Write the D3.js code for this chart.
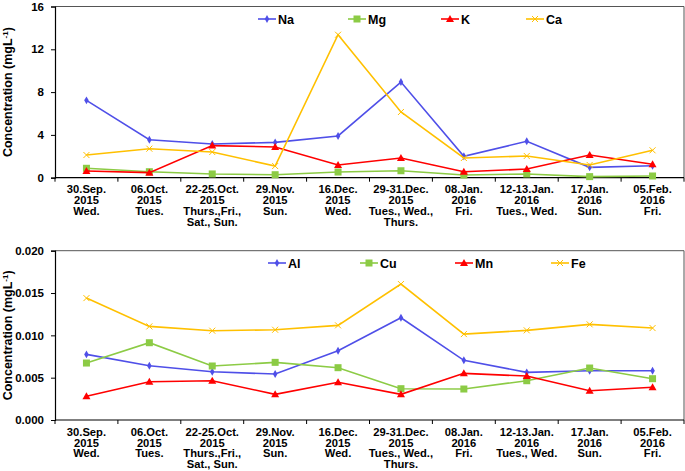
<!DOCTYPE html>
<html><head><meta charset="utf-8">
<script src="https://cdn.jsdelivr.net/npm/d3@7"></script>
<style>
html,body{margin:0;padding:0;background:#fff;}
text{font-family:Arial,"Liberation Sans",sans-serif;font-weight:bold;}
</style></head>
<body><svg id="c" width="685" height="471"></svg>
<script>
const categories = [
  ["30.Sep.","2015","Wed."],
  ["06.Oct.","2015","Tues."],
  ["22-25.Oct.","2015","Thurs.,Fri.,","Sat., Sun."],
  ["29.Nov.","2015","Sun."],
  ["16.Dec.","2015","Wed."],
  ["29-31.Dec.","2015","Tues., Wed.,","Thurs."],
  ["08.Jan.","2016","Fri."],
  ["12-13.Jan.","2016","Tues., Wed."],
  ["17.Jan.","2016","Sun."],
  ["05.Feb.","2016","Fri."]
];
const Na = [7.23, 3.55, 3.15, 3.3, 3.9, 8.94, 2.0, 3.4, 0.97, 1.12];
const Mg = [0.88, 0.56, 0.35, 0.28, 0.53, 0.65, 0.25, 0.35, 0.1, 0.16];
const K  = [0.63, 0.47, 3.0, 2.87, 1.19, 1.84, 0.56, 0.81, 2.12, 1.25];
const Ca = [2.12, 2.71, 2.4, 1.09, 13.36, 6.14, 1.84, 2.03, 1.19, 2.56];
const Al = [0.00775, 0.00641, 0.0057, 0.00543, 0.00818, 0.01208, 0.00705, 0.00563, 0.00582, 0.00582];
const Cu = [0.00673, 0.00913, 0.00638, 0.00681, 0.00618, 0.0037, 0.00366, 0.00464, 0.00614, 0.00488];
const Mn = [0.0028, 0.00452, 0.00464, 0.00303, 0.00445, 0.00303, 0.00551, 0.00519, 0.00346, 0.00386];
const Fe = [0.0144, 0.01106, 0.01055, 0.01066, 0.01118, 0.01606, 0.01015, 0.01059, 0.0113, 0.01086];
const topTicks = [0, 4, 8, 12, 16];
const bottomTicks = [0, 0.005, 0.010, 0.015, 0.020];

const colors = {blue:"#4F4FE8", green:"#8CCB45", red:"#FF0000", gold:"#FFC000"};
const svg = d3.select("#c");

function marker(g, type, x, y, color){
  if(type==="diamond"){
    g.append("path").attr("d", d3.symbol(d3.symbolDiamond, 18)()).attr("transform",`translate(${x},${y})`).attr("fill",color);
  } else if(type==="square"){
    g.append("rect").attr("x",x-3.5).attr("y",y-3.5).attr("width",7).attr("height",7).attr("fill",color);
  } else if(type==="triangle"){
    g.append("path").attr("d",`M${x},${y-4}L${x+4},${y+3}L${x-4},${y+3}Z`).attr("fill",color);
  } else if(type==="x"){
    g.append("path").attr("d",`M${x-3},${y-3}L${x+3},${y+3}M${x-3},${y+3}L${x+3},${y-3}`).attr("stroke",color).attr("stroke-width",1);
  }
}

function panel(cfg){
  const left=55, right=684, top=cfg.top, bottom=cfg.bottom;
  const x = d3.scaleBand().domain(d3.range(categories.length)).range([left,right]);
  const y = d3.scaleLinear().domain(cfg.domain).range([bottom, top]);
  const g = svg.append("g");
  g.append("path").attr("d",`M${left},${top}H${right}V${bottom}`).attr("fill","none").attr("stroke","#555").attr("stroke-width",1);
  const ya = g.append("g").attr("transform",`translate(${left},0)`)
    .call(d3.axisLeft(y).tickValues(cfg.ticks).tickFormat(cfg.fmt).tickSize(4).tickPadding(7));
  ya.select(".domain").attr("stroke","#000").attr("stroke-width",1.2);
  ya.selectAll(".tick line").attr("stroke","#000");
  ya.selectAll(".tick text").attr("font-size",11.5).attr("fill","#000").attr("font-family","Arial,'Liberation Sans',sans-serif").attr("font-weight","bold");
  const xa = g.append("g").attr("transform",`translate(0,${bottom})`);
  xa.append("line").attr("x1",left).attr("x2",right).attr("y1",0).attr("y2",0).attr("stroke","#000").attr("stroke-width",1.2);
  const bounds = d3.range(categories.length+1).map(i => left + i*x.step());
  xa.selectAll("line.tk").data(bounds).enter().append("line").attr("class","tk")
    .attr("x1",d=>d).attr("x2",d=>d).attr("y1",0).attr("y2",4).attr("stroke","#000");
  categories.forEach((lines,i)=>{
    const t = xa.append("text").attr("x", x(i)+x.bandwidth()/2).attr("y", 15.8).attr("text-anchor","middle").attr("font-size",11.2).attr("fill","#000");
    lines.forEach((ln,j)=>t.append("tspan").attr("x", x(i)+x.bandwidth()/2).attr("dy", j===0?0:10.8).text(ln));
  });
  const title = g.append("text").attr("transform",`translate(${cfg.titleX},${(top+bottom)/2}) rotate(-90)`)
    .attr("text-anchor","middle").attr("dy","0.35em").attr("font-size",12.5).attr("fill","#000");
  title.append("tspan").text("Concentration (mgL");
  title.append("tspan").attr("baseline-shift","super").attr("font-size",8).text("-1");
  title.append("tspan").text(")");
  cfg.series.forEach(s=>{
    const line = d3.line().x((d,i)=>x(i)+x.bandwidth()/2).y(d=>y(d));
    g.append("path").datum(s.data).attr("d",line).attr("fill","none").attr("stroke",s.color).attr("stroke-width",1.6);
    s.data.forEach((d,i)=>marker(g, s.type, x(i)+x.bandwidth()/2, y(d), s.color));
    const ly = cfg.legendY;
    g.append("line").attr("x1",s.lx).attr("x2",s.lx+18).attr("y1",ly).attr("y2",ly).attr("stroke",s.color).attr("stroke-width",1.6);
    marker(g, s.type, s.lx+9, ly, s.color);
    g.append("text").attr("x",s.lx+20).attr("y",ly).attr("dy","0.36em").attr("font-size",12.5).attr("fill","#000").text(s.name);
  });
}

panel({top:6.5, bottom:177.7, domain:[0,16], ticks:topTicks, fmt:d3.format("d"), titleX:8, legendY:19,
  series:[
    {name:"Na", data:Na, color:colors.blue, type:"diamond", lx:258},
    {name:"Mg", data:Mg, color:colors.green, type:"square", lx:348},
    {name:"K", data:K, color:colors.red, type:"triangle", lx:441},
    {name:"Ca", data:Ca, color:colors.gold, type:"x", lx:526}
  ]});
panel({top:250.7, bottom:420, domain:[0,0.02], ticks:bottomTicks, fmt:d3.format(".3f"), titleX:8, legendY:263,
  series:[
    {name:"Al", data:Al, color:colors.blue, type:"diamond", lx:268},
    {name:"Cu", data:Cu, color:colors.green, type:"square", lx:360},
    {name:"Mn", data:Mn, color:colors.red, type:"triangle", lx:455},
    {name:"Fe", data:Fe, color:colors.gold, type:"x", lx:551}
  ]});
</script></body></html>
